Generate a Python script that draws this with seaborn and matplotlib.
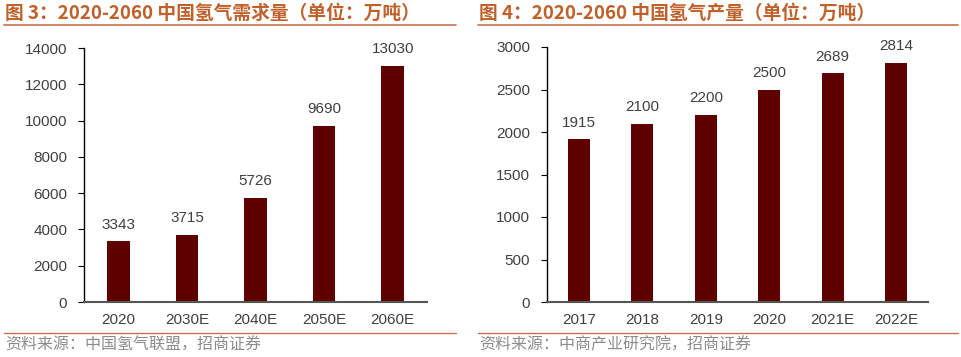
import matplotlib
matplotlib.use("Agg")
import matplotlib.pyplot as plt
import seaborn as sns
import pandas as pd
from matplotlib.lines import Line2D

sns.set_theme(style="white")
plt.rcParams['font.family'] = ['Liberation Sans', 'Noto Sans CJK SC', 'DejaVu Sans']

# Data
demand_years = ["2020", "2030E", "2040E", "2050E", "2060E"]
demand_values = [3343, 3715, 5726, 9690, 13030]
prod_years = ["2017", "2018", "2019", "2020", "2021E", "2022E"]
prod_values = [1915, 2100, 2200, 2500, 2689, 2814]

title_left = "图 3：2020-2060 中国氢气需求量（单位：万吨）"
title_right = "图 4：2020-2060 中国氢气产量（单位：万吨）"
source_left = "资料来源：中国氢气联盟，招商证券"
source_right = "资料来源：中商产业研究院，招商证券"

BAR = "#5E0000"
TITLE_C = "#C0602A"
LINE_C = "#C8704C"
TXT = "#404040"

W, H = 961, 357
fig = plt.figure(figsize=(W / 100, H / 100), dpi=100)

def fx(px):
    return px / W

def fy(py):
    return 1 - py / H

def panel(x0, x1, ytop, cats, vals, ymax, step, width, title, source, tx0, tx1):
    ax = fig.add_axes([fx(x0), fy(302), fx(x1) - fx(x0), fy(ytop) - fy(302)])
    df = pd.DataFrame({"cat": cats, "val": vals})
    sns.barplot(data=df, x="cat", y="val", ax=ax, color=BAR, width=width,
                saturation=1, edgecolor="none")
    ax.set_ylim(0, ymax)
    ax.set_yticks(range(0, ymax + 1, step))
    ax.set_xlim(-0.5, len(cats) - 0.5)
    ax.set_xlabel("")
    ax.set_ylabel("")
    for s in ["top", "right"]:
        ax.spines[s].set_visible(False)
    ax.spines["left"].set_color("black")
    ax.spines["left"].set_linewidth(1.0)
    ax.spines["bottom"].set_color("#555555")
    ax.spines["bottom"].set_linewidth(1.5)
    ax.tick_params(axis="y", direction="out", length=4, width=0.8, color="black",
                   labelsize=11, labelcolor=TXT, pad=8, left=True)
    ax.tick_params(axis="x", length=0, labelsize=11, labelcolor=TXT, pad=8)
    for i, v in enumerate(vals):
        ax.annotate(f"{v}", (i, v), xytext=(0, 7), textcoords="offset points",
                    ha="center", va="bottom", fontsize=11, color=TXT)
    fig.text(fx(tx0 + 1), fy(13), title, fontsize=13.5, fontweight="bold",
             color=TITLE_C, ha="left", va="center",
             family=['Noto Sans CJK SC', 'DejaVu Sans'])
    fig.add_artist(Line2D([fx(tx0), fx(tx1)], [fy(25), fy(25)], color=LINE_C,
                          lw=1.2, transform=fig.transFigure))
    fig.add_artist(Line2D([fx(tx0), fx(tx1)], [fy(333), fy(333)], color=LINE_C,
                          lw=1.0, transform=fig.transFigure))
    fig.text(fx(tx0 + 1), fy(345), source, fontsize=11.5, color="#8C8C8C",
             ha="left", va="center", family=['Noto Sans CJK SC', 'DejaVu Sans'])
    return ax

panel(84, 427, 48, demand_years, demand_values, 14000, 2000, 0.33,
      title_left, source_left, 4, 456)
panel(547, 928, 47, prod_years, prod_values, 3000, 500, 0.35,
      title_right, source_right, 478, 958)

fig.savefig("out.png", dpi=100, facecolor="white")
